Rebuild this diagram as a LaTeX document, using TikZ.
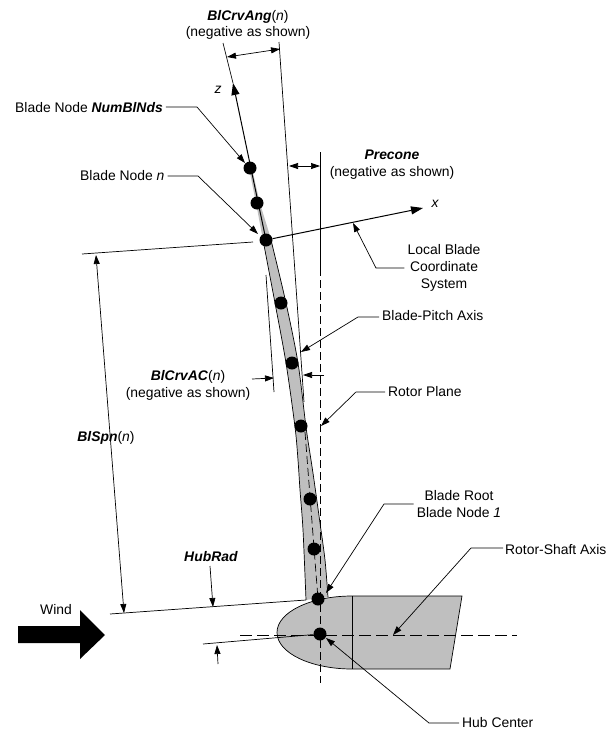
\documentclass[tikz,border=0pt]{standalone}
\usepackage{fontspec}
\setmainfont{Liberation Sans}
\usepackage{xcolor}
\usetikzlibrary{
    arrows.meta,
    calc
}
\definecolor{bladegray}{HTML}{BFBFBF}
\tikzset{
    >={Triangle[length=9pt,width=6pt]},
    dot/.style={circle, fill=black, draw=none, inner sep=0pt, minimum size=13pt},
    lbl/.style={inner sep=0pt, align=center, yshift=-1pt, font=\fontsize{13.9}{16.8}\selectfont},
    thin line/.style={line width=0.7pt},
    leader/.style={line width=0.7pt, ->},
    axis line/.style={line width=1pt, -{Triangle[length=12pt,width=8pt]}}
}
\begin{document}
\begin{tikzpicture}[x=1pt, y=-1pt]
    \useasboundingbox (0, 0) rectangle (614, 742);
    % blade and hub
    \fill[bladegray] plot[smooth] coordinates {(249, 168) (256, 203) (263, 240) (275, 303) (286, 363) (295, 427) (298, 460) (300, 490) (303, 530) (306, 600)}
        -- plot[smooth] coordinates {(328, 597) (325, 560) (320, 523) (314, 480) (311, 460) (306, 427) (298, 363) (286, 303) (271, 240) (260, 203) (252, 168)} -- cycle;
    \draw[thin line] plot[smooth] coordinates {(263, 240) (275, 303) (286, 363) (295, 427) (298, 460) (300, 490) (303, 530) (306, 600)};
    \draw[thin line] plot[smooth] coordinates {(328, 597) (325, 560) (320, 523) (314, 480) (311, 460) (306, 427) (298, 363) (286, 303) (271, 240)};
    \draw[thin line, fill=bladegray] (352, 596) -- (462, 596) -- (450, 669) -- (352, 669)
        .. controls (311, 669) and (277, 653) .. (277, 632.5)
        .. controls (277, 612) and (311, 596) .. (352, 596);
    \draw[thin line] (352, 596) -- (352, 669);
    % wind
    \fill (18, 626) -- (80, 626) -- (80, 610) -- (105, 635) -- (80, 659) -- (80, 643) -- (18, 643) -- cycle;
    \node[lbl] (wind) at (56, 609) {Wind};

    % blade nodes
    \node[dot] (nodetop) at (250, 168) {};
    \node[dot] (nodeb) at (257, 203) {};
    \node[dot] (noden) at (266, 240) {};
    \node[dot] (noded) at (281, 303) {};
    \node[dot] (nodee) at (292, 363) {};
    \node[dot] (nodef) at (301, 426) {};
    \node[dot] (nodeg) at (310, 499) {};
    \node[dot] (nodeh) at (314, 549) {};
    \node[dot] (root) at (318, 599) {};
    \node[dot] (hub) at (320, 634) {};

    % axes
    \coordinate (ztip) at (233, 83);
    \coordinate (xtip) at (423, 208);
    \coordinate (zext) at (223, 43);
    \draw[axis line] (noden.center) -- (ztip);
    \draw[axis line] (noden) -- (xtip);
    \draw[thin line] (zext) -- (ztip);
    \node[lbl, font=\fontsize{13.9}{15}\selectfont\itshape] (zlabel) at (218, 89) {z};
    \node[lbl, font=\fontsize{13.9}{15}\selectfont\itshape] (xlabel) at (435, 203) {x};

    % pitch axis and rotor plane
    \coordinate (pitchtop) at (279, 42);
    \coordinate (pitchmid) at (304, 402);
    \coordinate (pitchend) at (305, 432);
    \coordinate (planetop) at (320, 152);
    \coordinate (planemid) at (320, 268);
    \coordinate (planeend) at (320, 683);
    \draw[thin line] (pitchtop) -- (pitchmid);
    \draw[thin line, dashed, dash pattern=on 8pt off 4pt] (pitchend) -- (root.center);
    \draw[thin line] (planetop) -- (planemid);
    \draw[thin line, dash pattern=on 8pt off 4pt] (planemid) -- (planeend);
    \coordinate (shaftl) at (240, 635);
    \coordinate (shaftr) at (517, 635);
    \draw[thin line, dash pattern=on 12pt off 5pt] (shaftl) -- (shaftr);

    % dimension lines
    \coordinate (angl) at (227, 57);
    \coordinate (angr) at (280, 49);
    \draw[thin line, <->] (angl) -- (angr);
    \coordinate (prel) at (289, 166);
    \coordinate (prer) at (320, 166);
    \draw[thin line, <->] (prel) -- (prer);
    \coordinate (spnl) at (82, 254);
    \coordinate (spnr) at (253, 242);
    \draw[thin line] (spnl) -- (spnr);
    \coordinate (rootl) at (110, 614);
    \coordinate (rootr) at (306, 600);
    \draw[thin line] (rootl) -- (rootr);
    \coordinate (spna) at (96, 255);
    \coordinate (spnb) at (124, 613);
    \draw[thin line, <->] (spna) -- (spnb);
    \coordinate (huba) at (210, 566);
    \coordinate (hubb) at (213, 607);
    \draw[leader] (huba) -- (hubb);
    \coordinate (hubl) at (203, 644);
    \draw[thin line] (hubl) -- (hub);
    \coordinate (hubc) at (218, 664);
    \coordinate (hubd) at (217, 645);
    \draw[leader] (hubc) -- (hubd);
    \coordinate (aca) at (266, 275);
    \coordinate (acb) at (274, 392);
    \draw[thin line] (aca) -- (acb);
    \coordinate (acc) at (252, 379);
    \coordinate (acd) at (274, 378);
    \draw[leader] (acc) -- (acd);
    \coordinate (ace) at (324, 375);
    \coordinate (acf) at (303, 375);
    \draw[leader] (ace) -- (acf);

    % labels
    \node[lbl] (crvang) at (248, 24) {\textbf{\textit{BlCrvAng}}(\textit{n})\\(negative as shown)};
    \node[lbl] (precone) at (392, 164) {\textbf{\textit{Precone}}\\(negative as shown)};
    \node[lbl] (crvac) at (188, 384) {\textbf{\textit{BlCrvAC}}(\textit{n})\\(negative as shown)};
    \node[lbl] (spn) at (106, 437) {\textbf{\textit{BlSpn}}(\textit{n})};
    \node[lbl] (hubrad) at (211, 556) {\textbf{\textit{HubRad}}};
    \node[lbl, anchor=west] (nodenum) at (15, 107) {Blade Node \textbf{\textit{NumBlNds}}};
    \node[lbl, anchor=west] (nodenlabel) at (80, 175) {Blade Node \textit{n}};
    \node[lbl] (local) at (444, 267) {Local Blade\\Coordinate\\System};
    \node[lbl, anchor=west] (pitch) at (382, 315) {Blade-Pitch Axis};
    \node[lbl, anchor=west] (plane) at (388, 391) {Rotor Plane};
    \node[lbl] (rootlabel) at (459, 503) {Blade Root\\Blade Node \textit{1}};
    \node[lbl, anchor=west] (shaft) at (505, 549) {Rotor-Shaft Axis};
    \node[lbl, anchor=west] (center) at (462, 722) {Hub Center};

    % leaders
    \coordinate (numbend) at (197, 107);
    \coordinate (numtip) at (245, 163);
    \draw[leader] (nodenum.east) ++(3, -1) -- (numbend) -- (numtip);
    \coordinate (nbend) at (198, 176);
    \coordinate (ntip) at (258, 234);
    \draw[leader] (nodenlabel.east) ++(3, 0) -- (nbend) -- (ntip);
    \coordinate (localbend) at (376, 268);
    \coordinate (localtip) at (353, 223);
    \draw[leader] (local.west |- localbend) ++(-3, 0) -- (localbend) -- (localtip);
    \coordinate (pitchbend) at (358, 317);
    \coordinate (pitchtip) at (301, 352);
    \draw[leader] (pitch.west) ++(-3, 1) -- (pitchbend) -- (pitchtip);
    \coordinate (planebend) at (356, 392);
    \coordinate (planetip) at (321, 426);
    \draw[leader] (plane.west) ++(-3, 0) -- (planebend) -- (planetip);
    \coordinate (rootbend) at (384, 504);
    \coordinate (roottip) at (326, 593);
    \draw[leader] (rootlabel.west) ++(-3, 0) -- (rootbend) -- (roottip);
    \coordinate (shaftbend) at (471, 548);
    \coordinate (shafttip) at (393, 635);
    \draw[leader] (shaft.west) ++(-2, -2) -- (shaftbend) -- (shafttip);
    \coordinate (centerbend) at (429, 723);
    \coordinate (centertip) at (326, 638);
    \draw[leader] (center.west) ++(-3, 0) -- (centerbend) -- (centertip);
\end{tikzpicture}
\end{document}
